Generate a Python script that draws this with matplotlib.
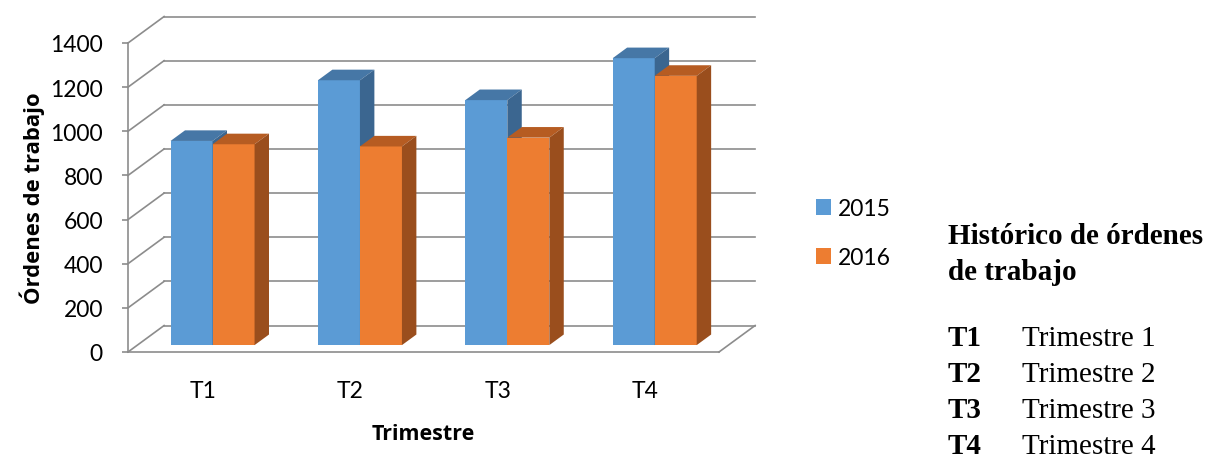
import matplotlib
matplotlib.use('Agg')
import matplotlib.pyplot as plt
from matplotlib.patches import Polygon

# datos
categories = ['T1', 'T2', 'T3', 'T4']
years = ['2015', '2016']
ordenes_2015 = [925, 1200, 1110, 1300]
ordenes_2016 = [910, 900, 940, 1220]
y_ticks = [0, 200, 400, 600, 800, 1000, 1200, 1400]
note_codes = ['T1', 'T2', 'T3', 'T4']
note_names = ['Trimestre 1', 'Trimestre 2', 'Trimestre 3', 'Trimestre 4']

W, H = 1212, 460
fig = plt.figure(figsize=(W / 100, H / 100), dpi=100)
ax = fig.add_axes([128 / W, 1 - 353 / H, (719 - 128) / W, (353 - 44) / H])
x_lo, x_hi = -0.51, 3.5
ax.set_xlim(x_lo, x_hi)
ax.set_ylim(0, 1400)

# fake 3d: how far the back wall is shifted (data units)
dx_wall, dy_wall = 0.245, 120
z0, z1 = 0.26, 0.66   # depth of the bars (front, back)
grid_col = '#8c8c8c'
lw = 1.2

for v in y_ticks:
    ax.plot([x_lo + dx_wall, x_hi + dx_wall], [v + dy_wall, v + dy_wall],
            color=grid_col, lw=lw, clip_on=False, zorder=0.5)
    ax.plot([x_lo, x_lo + dx_wall], [v, v + dy_wall],
            color=grid_col, lw=lw, clip_on=False, zorder=0.5)
# floor, right edge
ax.plot([x_hi, x_hi + dx_wall], [0, dy_wall], color=grid_col, lw=lw,
        clip_on=False, zorder=0.5)

w = 0.285
ddx = dx_wall * (z1 - z0)
ddy = dy_wall * (z1 - z0)
styles = [('#5b9bd5', '#4677a6', '#3b6690'),
          ('#ed7d31', '#b65c22', '#9a4e1d')]
handles = []
for i in range(len(categories)):
    for j, vals in enumerate([ordenes_2015, ordenes_2016]):
        front, top, side = styles[j]
        v = vals[i]
        x0 = i + dx_wall * z0 - w + j * w
        y0 = dy_wall * z0
        b = ax.bar(x0, v, width=w, bottom=y0, align='edge', color=front,
                   zorder=2, clip_on=False)
        ax.add_patch(Polygon([(x0, y0 + v), (x0 + w, y0 + v),
                              (x0 + w + ddx, y0 + v + ddy), (x0 + ddx, y0 + v + ddy)],
                             closed=True, facecolor=top, edgecolor='none',
                             zorder=2, clip_on=False))
        ax.add_patch(Polygon([(x0 + w, y0), (x0 + w + ddx, y0 + ddy),
                              (x0 + w + ddx, y0 + v + ddy), (x0 + w, y0 + v)],
                             closed=True, facecolor=side, edgecolor='none',
                             zorder=2, clip_on=False))
        if i == 0:
            handles.append(b)

font = 'Lato'
label_font = 'Open Sans'
for s in ['top', 'right']:
    ax.spines[s].set_visible(False)
for s in ['left', 'bottom']:
    ax.spines[s].set_color(grid_col)
    ax.spines[s].set_linewidth(lw)

ax.set_yticks(y_ticks)
ax.set_yticklabels([str(t) for t in y_ticks], fontsize=16.5, family=font)
ax.set_xticks(range(len(categories)))
ax.set_xticklabels(categories, fontsize=16.5, family=font)
ax.tick_params(axis='y', length=4.5, width=lw, color=grid_col, pad=13.5)
ax.tick_params(axis='x', length=0, pad=20)
ax.set_xlabel('Trimestre', fontsize=15.5, fontweight='bold', family=label_font,
              labelpad=16)
ax.set_ylabel('Órdenes de trabajo', fontsize=15.8, fontweight='bold',
              family=label_font, labelpad=4)

fig.legend(handles, years, loc='upper left', bbox_to_anchor=(816 / W, 1 - 199 / H),
           frameon=False, prop={'family': font, 'size': 16.5},
           handlelength=0.65, handleheight=0.65, handletextpad=0.3,
           labelspacing=1.22, borderpad=0, borderaxespad=0)

serif = 'Liberation Serif'
fig.text(948 / W, 1 - 236 / H, 'Histórico de órdenes', family=serif,
         fontweight='bold', fontsize=21, va='center', ha='left')
fig.text(948 / W, 1 - 272 / H, 'de trabajo', family=serif,
         fontweight='bold', fontsize=21, va='center', ha='left')
for k in range(len(note_codes)):
    yy = 1 - (339 + 36 * k) / H
    fig.text(948 / W, yy, note_codes[k], family=serif, fontweight='bold',
             fontsize=21, va='center', ha='left')
    fig.text(1022 / W, yy, note_names[k], family=serif, fontsize=21,
             va='center', ha='left')

fig.savefig('out.png', dpi=100)
